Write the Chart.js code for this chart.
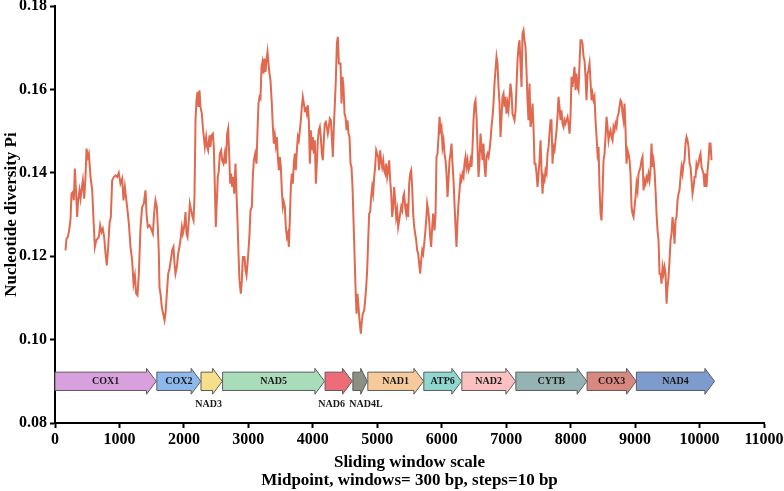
<!DOCTYPE html>
<html>
<head>
<meta charset="utf-8">
<title>Nucleotide diversity</title>
<script src="https://cdn.jsdelivr.net/npm/chart.js@4.4.1/dist/chart.umd.min.js"></script>
<style>
    html, body { margin: 0; padding: 0; background: #fff; }
    #wrap { width: 784px; height: 491px; }
</style>
</head>
<body>
<div id="wrap"><canvas id="piChart" width="784" height="491"></canvas></div>
<script>
// sliding window midpoints (bp) and Pi
var windowMid = [
    163,178,199,220,241,256,277,292,308,328,344,359,380,396,411,432,453,473,489,510,
    525,551,577,603,618,639,660,680,701,722,742,763,784,804,825,846,866,887,913,939,
    965,990,1016,1042,1063,1084,1104,1125,1146,1171,1197,1218,1239,1259,1280,1301,1327,1352,1378,1404,
    1420,1440,
    1466,1492,1518,1538,1559,1580,1595,1611,1621,1637,1657,1678,1699,1714,1735,1756,1776,1797,1818,1838,
    1854,1869,1890,1911,1931,1952,1968,1983,2004,2025,2040,2056,2076,2092,2113,2133,2149,2164,2180,2195,
    2211,2226,2242,2257,2278,2293,2309,2325,2345,2361,2376,2397,2412,2428,2449,2464,2480,2495,2511,2526,
    2542,2557,2578,2593,2614,2635,2650,2671,2687,2702,2718,2733,2749,2764,2780,2800,2816,2831,2847,2862,
    2883,2899,2914,
    2940,2956,2971,2987,3002,3018,3033,3054,3069,3085,3106,3126,3142,3157,3173,3188,3204,3219,3235,3250,
    3266,3281,3297,3312,3328,3343,3364,3380,3395,3411,3426,3442,3457,3473,3488,3504,3519,3535,3550,3566,
    3581,3597,3612,3628,3643,3659,3674,3690,3705,3721,3736,3752,3768,3783,3799,3814,3830,3845,3861,3876,
    3892,3907,3923,3938,3954,3969,3985,4000,4016,4031,4047,4062,4078,4093,4109,4124,4140,4155,4171,4186,
    4202,4217,4233,4249,4264,4280,4295,4311,4326,4342,4357,4373,4388,4404,
    4430,4445,4461,4476,4492,4507,4523,4538,4554,4569,4585,4600,4616,4631,4647,4662,4678,4693,4709,4724,
    4745,4761,4776,4797,4812,4828,4843,4859,4874,4890,4905,4921,4936,4952,4967,4983,4998,5014,5029,5045,
    5060,5076,5092,5107,5123,5138,5154,5169,5185,5200,5216,5231,5247,5262,5278,5293,5309,5324,5340,5355,
    5371,5386,5402,5417,5433,5448,5464,5479,5495,5510,5526,5541,5557,5573,5588,5604,5619,5635,5650,5666,
    5681,5697,5712,5728,5743,5759,5774,5790,5805,5821,5836,5852,5867,
    5888,5904,5919,5935,5950,5966,5981,5997,6012,6028,6043,6059,6074,6090,6105,6121,6136,6152,6167,6183,
    6198,6214,6229,6245,6260,6276,6291,6307,6322,6338,6353,6369,6384,6400,6416,6431,6447,6462,6478,6493,
    6509,6524,6540,6555,6571,6586,6602,6617,6633,6648,6664,6679,6695,6710,6726,6741,6757,6772,6788,6803,
    6819,6834,6850,6865,6881,6897,6912,6928,6943,6959,6974,6990,7005,7021,7036,7052,7067,7083,7098,7114,
    7129,7145,7160,7176,7191,7207,7222,7238,7253,7269,7284,7300,7315,7331,7346,
    7362,7378,7393,7409,7424,7440,7455,7471,7486,7502,7517,7533,7548,7564,7579,7595,7610,7626,7641,7657,
    7672,7688,7703,7719,7734,7750,7765,7781,7796,7812,7827,7843,7858,7874,7890,7905,7921,7936,7952,7967,
    7983,7998,8014,8029,8045,8060,8076,8091,8107,8122,8138,8153,8169,8184,8200,8215,8231,8246,8262,8277,
    8293,8308,8324,8339,8355,8370,8386,8402,8417,8433,8448,8464,8479,8495,8510,8526,8541,8557,8572,8588,
    8603,8619,8634,8650,8665,8681,8696,8712,8727,8743,8758,8774,8789,8805,8820,
    8836,8852,8867,8883,8898,8914,8929,8945,8960,8976,8991,9007,9022,9038,9053,9069,9084,9100,9115,9131,
    9146,9162,9177,9193,9208,9224,9239,9255,9270,9286,9301,9317,9333,9348,9364,9379,9395,9410,9426,9441,
    9457,9472,9488,9503,9519,9534,9550,9565,9581,9596,9612,9627,9643,9658,9674,9689,9705,9720,9736,9751,
    9767,9782,9798,9813,9829,9845,9860,9876,9891,9907,9922,9938,9953,9969,9984,10000,10015,10031,10046,10062,
    10077,10093,10108,10124,10139,10155,10170,10186
];
var piValues = [
    .1214,.1242,.1246,.1262,.1290,.1350,.1354,.1334,.1410,.1350,.1294,.1334,.1358,.1338,.1358,.1382,.1338,.1390,.1458,.1438,
    .1446,.1390,.1358,.1270,.1222,.1238,.1242,.1246,.1274,.1258,.1266,.1246,.1206,.1178,.1222,.1278,.1294,.1382,.1390,.1394,
    .1390,.1400,.1374,.1386,.1334,.1366,.1338,.1310,.1278,.1222,.1190,.1134,.1154,.1110,.1106,.1158,.1270,.1318,.1326,.1358,
    .1302,.1270,
    .1274,.1266,.1254,.1302,.1334,.1318,.1270,.1206,.1126,.1110,.1078,.1062,.1046,.1062,.1110,.1158,.1170,.1190,.1214,.1222,
    .1182,.1158,.1174,.1206,.1222,.1246,.1270,.1254,.1270,.1306,.1254,.1246,.1286,.1326,.1310,.1294,.1286,.1342,.1526,.1574,
    .1594,.1558,.1598,.1558,.1542,.1510,.1486,.1462,.1486,.1462,.1454,.1490,.1462,.1490,.1494,.1462,.1366,.1270,.1334,.1390,
    .1406,.1446,.1454,.1430,.1422,.1446,.1422,.1494,.1506,.1446,.1374,.1398,.1366,.1390,.1350,.1422,.1350,.1286,.1206,.1142,
    .1110,.1142,.1198,
    .1198,.1166,.1154,.1182,.1214,.1254,.1310,.1318,.1390,.1430,.1446,.1422,.1502,.1566,.1582,.1578,.1654,.1666,.1638,.1674,
    .1642,.1670,.1690,.1662,.1638,.1622,.1566,.1510,.1470,.1490,.1466,.1486,.1438,.1406,.1438,.1414,.1358,.1318,.1330,.1318,
    .1270,.1246,.1254,.1222,.1286,.1366,.1398,.1374,.1422,.1446,.1406,.1454,.1486,.1478,.1502,.1526,.1558,.1582,.1566,.1550,
    .1554,.1542,.1562,.1526,.1422,.1502,.1454,.1486,.1446,.1478,.1374,.1422,.1478,.1502,.1510,.1486,.1446,.1430,.1478,.1518,
    .1522,.1510,.1494,.1510,.1530,.1526,.1486,.1438,.1510,.1566,.1622,.1710,.1726,.1662,
    .1662,.1566,.1630,.1606,.1542,.1534,.1502,.1526,.1494,.1486,.1422,.1414,.1366,.1286,.1206,.1126,.1062,.1110,.1078,.1046,
    .1014,.1046,.1062,.1070,.1094,.1126,.1166,.1238,.1302,.1306,.1342,.1366,.1350,.1390,.1414,.1454,.1446,.1438,.1406,.1454,
    .1430,.1414,.1430,.1406,.1398,.1422,.1390,.1406,.1430,.1382,.1350,.1294,.1318,.1366,.1334,.1294,.1310,.1270,.1286,.1302,
    .1318,.1310,.1342,.1350,.1318,.1302,.1326,.1294,.1374,.1398,.1406,.1366,.1302,.1270,.1254,.1238,.1214,.1206,.1182,.1158,
    .1190,.1214,.1206,.1230,.1254,.1286,.1326,.1310,.1286,.1246,.1222,.1270,.1302,
    .1262,.1302,.1438,.1446,.1486,.1534,.1502,.1510,.1462,.1478,.1446,.1430,.1398,.1342,.1382,.1430,.1446,.1470,.1422,.1382,
    .1326,.1270,.1222,.1286,.1326,.1358,.1390,.1382,.1398,.1390,.1422,.1438,.1414,.1430,.1406,.1414,.1430,.1414,.1462,.1526,
    .1566,.1574,.1534,.1462,.1390,.1430,.1494,.1462,.1430,.1470,.1414,.1390,.1438,.1446,.1438,.1454,.1478,.1510,.1534,.1566,
    .1614,.1646,.1678,.1662,.1606,.1566,.1486,.1534,.1582,.1590,.1558,.1582,.1542,.1566,.1550,.1582,.1614,.1590,.1542,.1534,
    .1526,.1550,.1606,.1670,.1702,.1718,.1662,.1606,.1734,.1742,.1718,.1702,.1646,.1574,.1526,
    .1614,.1510,.1526,.1566,.1510,.1422,.1422,.1398,.1366,.1398,.1430,.1478,.1406,.1350,.1390,.1382,.1406,.1398,.1446,.1462,
    .1494,.1526,.1526,.1422,.1462,.1454,.1478,.1502,.1534,.1582,.1558,.1526,.1550,.1518,.1510,.1526,.1518,.1526,.1534,.1518,
    .1494,.1534,.1630,.1606,.1630,.1654,.1598,.1638,.1606,.1598,.1662,.1718,.1718,.1710,.1678,.1670,.1630,.1574,.1638,.1646,
    .1662,.1622,.1574,.1590,.1574,.1582,.1526,.1486,.1446,.1462,.1366,.1302,.1286,.1350,.1430,.1446,.1486,.1534,.1510,.1478,
    .1494,.1502,.1486,.1478,.1510,.1502,.1518,.1510,.1534,.1542,.1558,.1574,.1570,.1542,.1526,
    .1566,.1502,.1422,.1454,.1446,.1430,.1398,.1318,.1302,.1294,.1318,.1342,.1374,.1358,.1398,.1406,.1414,.1430,.1438,.1358,
    .1382,.1374,.1390,.1382,.1398,.1382,.1406,.1470,.1414,.1430,.1406,.1358,.1302,.1262,.1238,.1158,.1158,.1134,.1174,.1158,
    .1174,.1158,.1086,.1126,.1150,.1190,.1238,.1254,.1294,.1270,.1230,.1286,.1294,.1334,.1350,.1358,.1390,.1414,.1398,.1422,
    .1430,.1470,.1486,.1478,.1462,.1422,.1414,.1382,.1350,.1366,.1390,.1390,.1422,.1414,.1422,.1438,.1446,.1414,.1406,.1398,
    .1366,.1398,.1366,.1406,.1430,.1470,.1470,.1430
];

// gene map under the curve
var geneNames = ['COX1','COX2','NAD3','NAD5','NAD6','NAD4L','NAD1','ATP6','NAD2','CYTB','COX3','NAD4'];
var geneStart = [0, 1580, 2265, 2600, 4190, 4621, 4853, 5722, 6312, 7150, 8255, 9020];
var geneEnd   = [1570, 2262, 2594, 4182, 4611, 4844, 5718, 6307, 7145, 8251, 9018, 10233];

// styles
var geneColors = ['#D9A0DE','#8DB8EE','#F6DF8B','#A9DDBA','#EE6C77','#8B9083','#F6CA9B','#8ED8D0','#FBC0C0','#96B3B3','#D8887F','#7D9BCD'];
var labelBelow = { 'NAD3': -3, 'NAD6': -7, 'NAD4L': 6 };
var SERIF = "'Liberation Serif', 'Times New Roman', serif";
var LINE_COLOR = '#E0694F';

var points = [];
for (var i = 0; i < windowMid.length; i++) {
    points.push({ x: windowMid[i], y: piValues[i] });
}

var geneArrows = {
    id: 'geneArrows',
    afterDatasetsDraw: function (chart) {
        var ctx = chart.ctx;
        var xs = chart.scales.x;
        var ys = chart.scales.y;
        var yMid = ys.getPixelForValue(0.09);
        var bodyTop = ys.getPixelForValue(0.0922);
        var bodyBot = ys.getPixelForValue(0.0878);
        var headTop = ys.getPixelForValue(0.0931);
        var headBot = ys.getPixelForValue(0.0869);
        var belowY = ys.getPixelForValue(0.0845);

        ctx.save();
        for (var g = 0; g < geneNames.length; g++) {
            var x0 = xs.getPixelForValue(geneStart[g]);
            var x1 = xs.getPixelForValue(geneEnd[g]);
            var headLen = Math.min(150, (geneEnd[g] - geneStart[g]) * 0.45);
            var xh = xs.getPixelForValue(geneEnd[g] - headLen);

            ctx.beginPath();
            ctx.moveTo(x0, bodyTop);
            ctx.lineTo(xh, bodyTop);
            ctx.lineTo(xh, headTop);
            ctx.lineTo(x1, yMid);
            ctx.lineTo(xh, headBot);
            ctx.lineTo(xh, bodyBot);
            ctx.lineTo(x0, bodyBot);
            ctx.closePath();
            ctx.fillStyle = geneColors[g];
            ctx.fill();
            ctx.lineWidth = 1;
            ctx.strokeStyle = '#5c5c5c';
            ctx.stroke();

            ctx.fillStyle = '#1a1a1a';
            ctx.font = 'bold 10px ' + SERIF;
            ctx.textAlign = 'center';
            ctx.textBaseline = 'middle';
            var name = geneNames[g];
            if (labelBelow.hasOwnProperty(name)) {
                ctx.fillText(name, (x0 + x1) / 2 + labelBelow[name], belowY);
            } else {
                ctx.fillText(name, (x0 + x1) / 2, yMid + 0.5);
            }
        }
        ctx.restore();
    }
};

var ctx = document.getElementById('piChart').getContext('2d');
var chart = new Chart(ctx, {
    type: 'line',
    data: {
        datasets: [{
            label: 'Pi',
            data: points,
            borderColor: LINE_COLOR,
            borderWidth: 2,
            pointRadius: 0,
            tension: 0,
            fill: false
        }]
    },
    options: {
        responsive: false,
        animation: false,
        parsing: false,
        layout: { padding: { top: 6, right: 20, left: 0, bottom: 0 } },
        plugins: {
            legend: { display: false },
            tooltip: { enabled: false }
        },
        scales: {
            x: {
                type: 'linear',
                min: 0,
                max: 11000,
                afterFit: function (scale) {
                    scale.height = 68;
                    scale.paddingLeft = 0;
                    scale.paddingRight = 0;
                },
                ticks: {
                    stepSize: 1000,
                    padding: 2,
                    color: '#000',
                    maxRotation: 0,
                    autoSkip: false,
                    font: { family: SERIF, size: 16, weight: 'bold' },
                    callback: function (v) { return String(v); }
                },
                grid: {
                    drawOnChartArea: false,
                    drawTicks: true,
                    tickLength: 5,
                    tickWidth: 2,
                    tickColor: '#000'
                },
                border: { display: true, color: '#000', width: 2 },
                title: {
                    display: true,
                    text: ['Sliding window scale', 'Midpoint, windows= 300 bp, steps=10 bp'],
                    color: '#000',
                    padding: { top: 0, bottom: 1 },
                    font: { family: SERIF, size: 17, weight: 'bold', lineHeight: 1.08 }
                }
            },
            y: {
                min: 0.08,
                max: 0.18,
                afterFit: function (scale) {
                    scale.width = 55;
                    scale.paddingTop = 0;
                    scale.paddingBottom = 0;
                },
                ticks: {
                    stepSize: 0.02,
                    padding: 3,
                    color: '#000',
                    font: { family: SERIF, size: 16, weight: 'bold' },
                    callback: function (v) { return v.toFixed(2); }
                },
                grid: {
                    drawOnChartArea: false,
                    drawTicks: true,
                    tickLength: 5,
                    tickWidth: 2,
                    tickColor: '#000'
                },
                border: { display: true, color: '#000', width: 2 },
                title: {
                    display: true,
                    text: 'Nucleotide diversity Pi',
                    color: '#000',
                    padding: { top: 1, bottom: 0 },
                    font: { family: SERIF, size: 17, weight: 'bold' }
                }
            }
        }
    },
    plugins: [geneArrows]
});
</script>
</body>
</html>
